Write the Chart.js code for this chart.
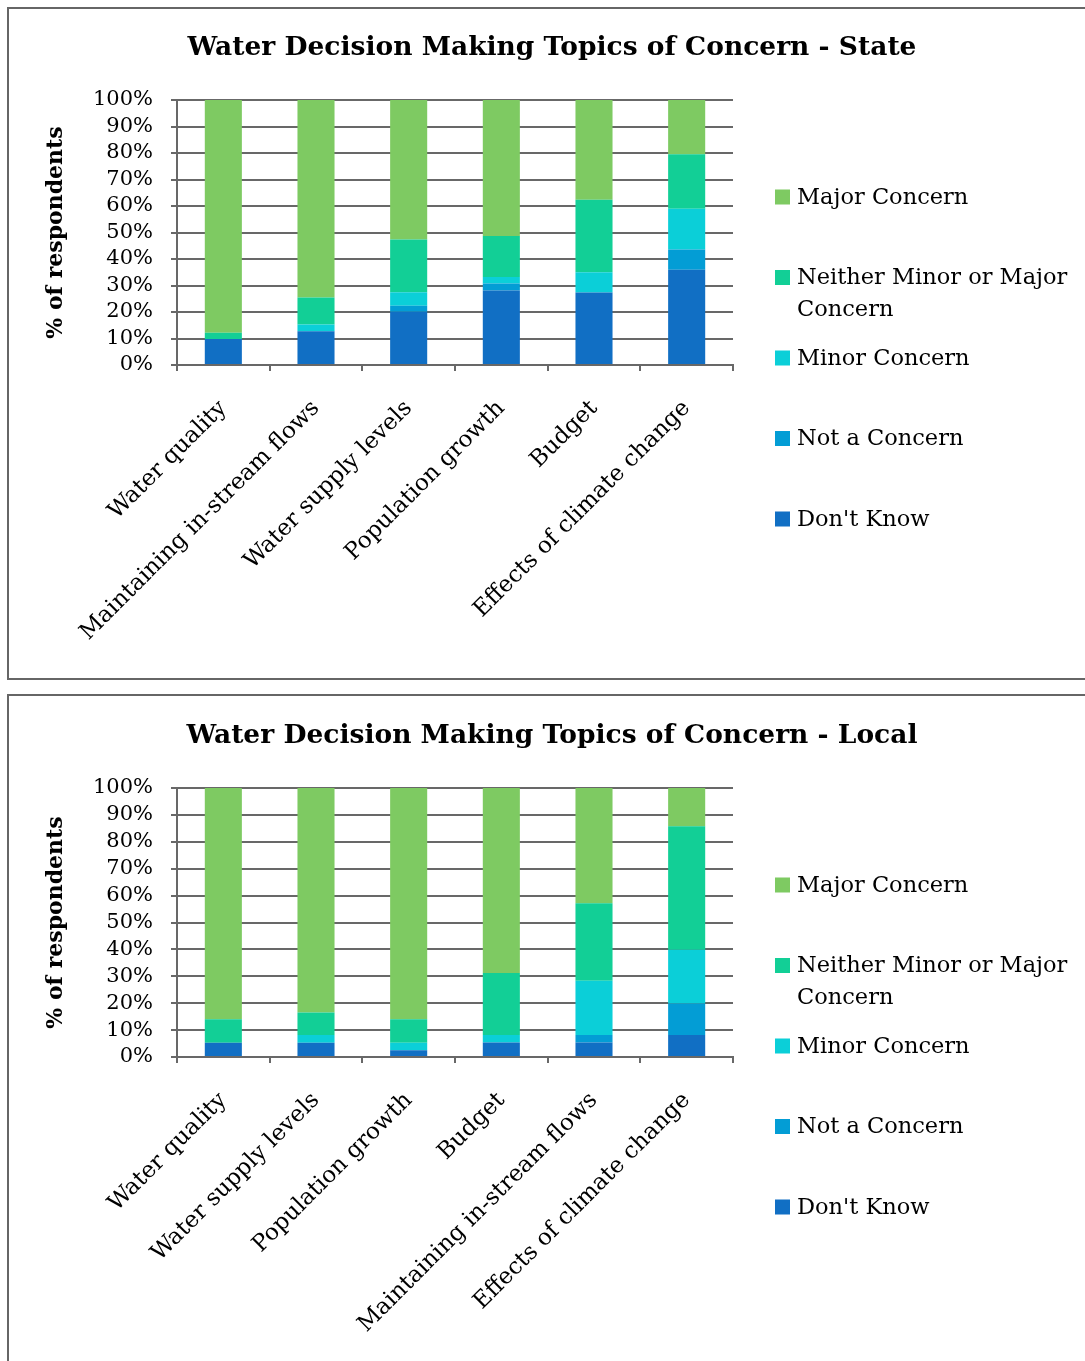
<!DOCTYPE html>
<html>
<head>
<meta charset="utf-8">
<title>Water Decision Making Topics of Concern</title>
<script src="https://cdn.jsdelivr.net/npm/chart.js@4.4.1/dist/chart.umd.min.js"></script>
<style>
  html, body { margin: 0; padding: 0; background: #fff; overflow: hidden; width: 1085px; height: 1361px; }
  .panel { position: absolute; border: 2px solid #666; box-sizing: border-box; }
  #panelState { left: 7px; top: 7px; width: 1110px; height: 673px; }
  #panelLocal { left: 7px; top: 694px; width: 1110px; height: 700px; }
  canvas { position: absolute; left: 0; }
  #chartState { top: 0; }
  #chartLocal { top: 688px; }
</style>
</head>
<body>
<div class="panel" id="panelState"></div>
<div class="panel" id="panelLocal"></div>
<canvas id="chartState" width="1085" height="680"></canvas>
<canvas id="chartLocal" width="1085" height="673"></canvas>
<script>
// Response categories, stacked from the bottom of each bar upwards
const seriesNames = ["Don't Know", "Not a Concern", "Minor Concern", "Neither Minor or Major Concern", "Major Concern"];
const seriesColors = ["#116FC4", "#039DD5", "#0BCFD8", "#12CF96", "#7ECA62"];

// State-level survey (% of respondents)
const stateTopics = ["Water quality", "Maintaining in-stream flows", "Water supply levels", "Population growth", "Budget", "Effects of climate change"];
const stateDontKnow = [9.8, 12.7, 20.1, 28.1, 27.4, 35.9];
const stateNotConcern = [0, 0, 2.3, 2.7, 0, 7.7];
const stateMinor = [0, 2.6, 5.1, 2.4, 7.6, 15.4];
const stateNeither = [2.4, 10.2, 19.9, 15.5, 27.4, 20.5];
const stateMajor = [87.8, 74.5, 52.6, 51.3, 37.6, 20.5];

// Local-level survey (% of respondents)
const localTopics = ["Water quality", "Water supply levels", "Population growth", "Budget", "Maintaining in-stream flows", "Effects of climate change"];
const localDontKnow = [5.3, 5.3, 2.5, 5.4, 5.4, 8.2];
const localNotConcern = [0, 0, 0, 0, 2.8, 11.7];
const localMinor = [0, 2.9, 2.8, 2.8, 20.1, 20.0];
const localNeither = [8.7, 8.3, 8.7, 23.0, 28.9, 45.9];
const localMajor = [86.0, 83.5, 86.0, 68.8, 42.8, 14.2];

const yTicks = [0, 10, 20, 30, 40, 50, 60, 70, 80, 90, 100];

const FONT = '"DejaVu Serif", "Liberation Serif", serif';
const AXIS_GREY = '#686868';

Chart.defaults.font.family = FONT;
Chart.defaults.color = '#000';

// Title and a right-hand legend, laid out relative to the plot area
const decorPlugin = {
  id: 'decor',
  afterDraw(chart, args, opts) {
    const { ctx, chartArea: a } = chart;
    ctx.save();
    ctx.fillStyle = '#000';
    ctx.font = 'bold 26.5px ' + FONT;
    ctx.textAlign = 'center';
    ctx.textBaseline = 'middle';
    ctx.fillText(opts.title, a.left + 375, a.top - 52);

    ctx.font = '22.5px ' + FONT;
    ctx.textAlign = 'left';
    const maxW = chart.width - (a.right + 64) - 2;
    const items = chart.data.datasets.slice().reverse();
    items.forEach((ds, i) => {
      const y = a.top + 97 + i * 80.5;
      ctx.fillStyle = ds.backgroundColor;
      ctx.fillRect(a.right + 42, y - 7.5, 15, 15);
      ctx.fillStyle = '#000';
      // wrap long names onto extra lines
      const words = ds.label.split(' ');
      const lines = [];
      let cur = '';
      words.forEach(w => {
        const test = cur ? cur + ' ' + w : w;
        if (cur && ctx.measureText(test).width > maxW) { lines.push(cur); cur = w; }
        else cur = test;
      });
      lines.push(cur);
      lines.forEach((t, j) => ctx.fillText(t, a.right + 64, y + 1 + j * 32));
    });
    ctx.restore();
  }
};

function buildChart(canvasId, title, topics, values, area) {
  const canvas = document.getElementById(canvasId);
  const H = canvas.height;
  const datasets = seriesNames.map((name, i) => ({
    label: name,
    data: values[i],
    backgroundColor: seriesColors[i],
    borderWidth: 0,
    barPercentage: 0.4,
    categoryPercentage: 1.0
  }));
  const chart = new Chart(canvas, {
    type: 'bar',
    data: { labels: topics, datasets },
    plugins: [decorPlugin],
    options: {
      responsive: false,
      animation: false,
      devicePixelRatio: 1,
      layout: { padding: { top: area.top, right: canvas.width - area.right, bottom: 0, left: 0 } },
      plugins: {
        legend: { display: false },
        tooltip: { enabled: false },
        decor: { title }
      },
      scales: {
        x: {
          stacked: true,
          grid: { display: true, drawOnChartArea: false, drawTicks: true, tickLength: 6, color: AXIS_GREY, lineWidth: 2 },
          border: { display: true, color: AXIS_GREY, width: 2 },
          ticks: { autoSkip: false, maxRotation: 45, minRotation: 45, padding: 24, color: '#000', font: { size: 23, family: FONT } },
          afterFit(scale) { scale.height = H - area.bottom; }
        },
        y: {
          stacked: true,
          min: 0,
          max: 100,
          afterBuildTicks(scale) { scale.ticks = yTicks.map(v => ({ value: v })); },
          grid: { color: AXIS_GREY, lineWidth: 2, tickLength: 6, drawTicks: true },
          border: { display: true, color: AXIS_GREY, width: 2 },
          ticks: { autoSkip: false, padding: 18, color: '#000', font: { size: 21, family: FONT }, callback: v => v + '%' },
          title: { display: true, text: '% of respondents', color: '#000', font: { size: 22, weight: 'bold', family: FONT }, padding: { top: 43, bottom: 0 } },
          afterFit(scale) { scale.width = area.left; }
        }
      }
    }
  });
  // settle the plot area onto its intended box
  for (let k = 0; k < 2; k++) {
    const a = chart.chartArea;
    const p = chart.config.options.layout.padding;
    p.top += area.top - a.top;
    p.right += a.right - area.right;
    chart.update('none');
  }
  return chart;
}

buildChart('chartState', 'Water Decision Making Topics of Concern - State', stateTopics,
  [stateDontKnow, stateNotConcern, stateMinor, stateNeither, stateMajor],
  { left: 177, right: 733, top: 100, bottom: 365 });

buildChart('chartLocal', 'Water Decision Making Topics of Concern - Local', localTopics,
  [localDontKnow, localNotConcern, localMinor, localNeither, localMajor],
  { left: 177, right: 733, top: 100, bottom: 369 });
</script>
</body>
</html>
